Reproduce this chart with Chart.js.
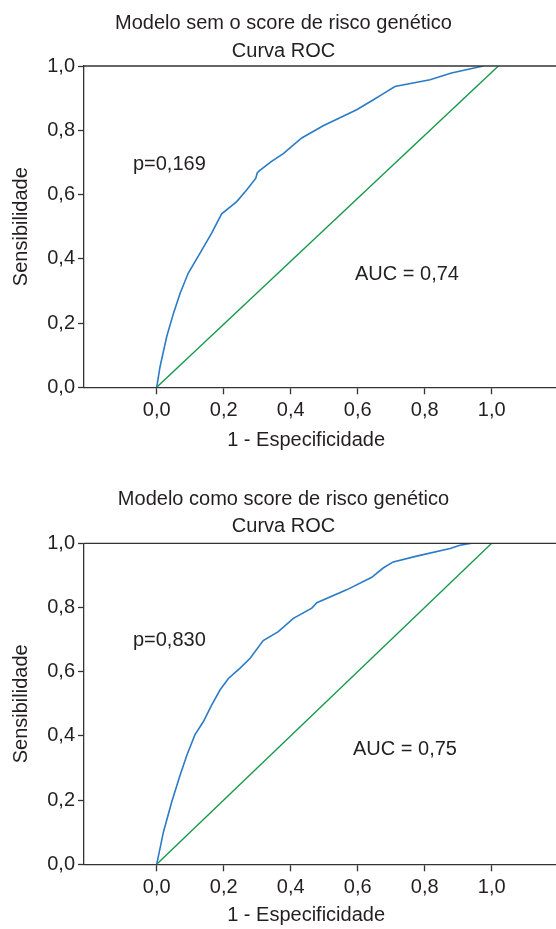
<!DOCTYPE html>
<html>
<head>
<meta charset="utf-8">
<script src="https://cdn.jsdelivr.net/npm/chart.js@4.4.1/dist/chart.umd.min.js"></script>
<style>
  body { margin: 0; background: #fff; }
  canvas { display: block; }
</style>
</head>
<body>
<canvas id="roc1" width="556" height="464"></canvas>
<canvas id="roc2" width="556" height="465"></canvas>
<script>
// tick labels
const xTicks = [0, 0.2, 0.4, 0.6, 0.8, 1.0];
const yTicks = [0, 0.2, 0.4, 0.6, 0.8, 1.0];

// model without genetic risk score
const fpr1 = [0, 0.01, 0.03, 0.05, 0.07, 0.094, 0.129, 0.164, 0.194, 0.239, 0.269, 0.296, 0.30, 0.308, 0.343, 0.378, 0.433, 0.497, 0.597, 0.647, 0.672, 0.711, 0.816, 0.880, 0.975];
const tpr1 = [0, 0.064, 0.158, 0.23, 0.293, 0.355, 0.417, 0.48, 0.54, 0.578, 0.615, 0.651, 0.667, 0.675, 0.703, 0.727, 0.776, 0.814, 0.864, 0.895, 0.911, 0.936, 0.957, 0.978, 1.0];
const diag1X = [0, 1.02];
const diag1Y = [0, 1.0];

// model with genetic risk score
const fpr2 = [0, 0.02, 0.045, 0.07, 0.09, 0.114, 0.139, 0.164, 0.189, 0.214, 0.249, 0.279, 0.318, 0.363, 0.408, 0.463, 0.478, 0.567, 0.642, 0.676, 0.706, 0.776, 0.876, 0.905, 0.94];
const tpr2 = [0, 0.10, 0.195, 0.278, 0.34, 0.403, 0.444, 0.496, 0.543, 0.579, 0.611, 0.642, 0.697, 0.725, 0.766, 0.798, 0.815, 0.855, 0.894, 0.923, 0.942, 0.96, 0.984, 0.994, 1.0];
const diag2X = [0, 1.0];
const diag2Y = [0, 1.0];

const titles1 = ["Modelo sem o score de risco genético", "Curva ROC"];
const titles2 = ["Modelo como score de risco genético", "Curva ROC"];
const pLabels = ["p=0,169", "p=0,830"];
const aucLabels = ["AUC = 0,74", "AUC = 0,75"];
const xTitle = "1 - Especificidade";
const yTitle = "Sensibilidade";

const FONT = "'Liberation Sans', Arial, sans-serif";
const INK = "#231f20";
const AXIS = "#333333";

const fmt = v => v.toFixed(1).replace(".", ",");
const pts = (xs, ys) => xs.map((x, i) => ({ x: x, y: ys[i] }));

// top frame line + text notes placed with the chart scales
const extras = {
  id: "extras",
  afterDraw(chart, args, opts) {
    const { ctx, chartArea, scales } = chart;
    ctx.save();
    ctx.strokeStyle = AXIS;
    ctx.lineWidth = 1.3;
    ctx.beginPath();
    ctx.moveTo(chartArea.left, chartArea.top);
    ctx.lineTo(chartArea.right, chartArea.top);
    ctx.stroke();
    ctx.fillStyle = INK;
    ctx.font = "20px " + FONT;
    ctx.textBaseline = "middle";
    opts.notes.forEach(n => {
      ctx.textAlign = n.align || "left";
      ctx.fillText(n.text, scales.x.getPixelForValue(n.x), scales.y.getPixelForValue(n.y));
    });
    ctx.restore();
  }
};

function makeRoc(id, title, fpr, tpr, dx, dy, notes, lay) {
  return new Chart(document.getElementById(id), {
    type: "line",
    data: {
      datasets: [
        { data: pts(fpr, tpr), borderColor: "#2b7bc6", borderWidth: 1.6, pointRadius: 0, tension: 0 },
        { data: pts(dx, dy), borderColor: "#16994a", borderWidth: 1.4, pointRadius: 0, tension: 0 }
      ]
    },
    options: {
      responsive: false,
      animation: false,
      layout: { padding: { left: 11, right: 0, top: 0, bottom: 0 } },
      plugins: {
        legend: { display: false },
        tooltip: { enabled: false },
        title: {
          display: true,
          text: title,
          color: INK,
          font: { family: FONT, size: 20, weight: "normal", lineHeight: 1.375 },
          padding: { top: lay.titleTop, bottom: lay.titleBottom }
        },
        extras: { notes: notes }
      },
      scales: {
        x: {
          type: "linear",
          min: -0.217,
          max: 1.192,
          afterBuildTicks: s => { s.ticks = xTicks.map(v => ({ value: v })); },
          afterFit: s => { s.height = lay.xHeight; },
          ticks: { color: INK, font: { family: FONT, size: 20 }, padding: 4, maxRotation: 0, callback: v => fmt(v) },
          grid: { drawOnChartArea: false, drawTicks: true, tickLength: 7, color: AXIS, tickWidth: 1.3 },
          border: { display: true, color: AXIS, width: 1.3 }
        },
        y: {
          type: "linear",
          min: 0,
          max: 1,
          afterBuildTicks: s => { s.ticks = yTicks.map(v => ({ value: v })); },
          afterFit: s => { s.width = 73; },
          ticks: { color: INK, font: { family: FONT, size: 20 }, padding: 3, callback: v => fmt(v) },
          grid: { drawOnChartArea: false, drawTicks: true, tickLength: 6, color: AXIS, tickWidth: 1.3 },
          border: { display: true, color: AXIS, width: 1.3 },
          title: { display: true, text: yTitle, color: INK, font: { family: FONT, size: 20, lineHeight: 1 }, padding: { top: 0, bottom: 0 } }
        }
      }
    },
    plugins: [extras]
  });
}

makeRoc("roc1", titles1, fpr1, tpr1, diag1X, diag1Y,
  [{ text: pLabels[0], x: -0.071, y: 0.693 },
   { text: aucLabels[0], x: 0.592, y: 0.35 },
   { text: xTitle, x: 0.446, y: -0.164, align: "center" }],
  { titleTop: 9.75, titleBottom: 1.25, xHeight: 76.7 });

makeRoc("roc2", titles2, fpr2, tpr2, diag2X, diag2Y,
  [{ text: pLabels[1], x: -0.071, y: 0.696 },
   { text: aucLabels[1], x: 0.586, y: 0.357 },
   { text: xTitle, x: 0.446, y: -0.161, align: "center" }],
  { titleTop: 21.25, titleBottom: 3.05, xHeight: 64.7 });
</script>
</body>
</html>
